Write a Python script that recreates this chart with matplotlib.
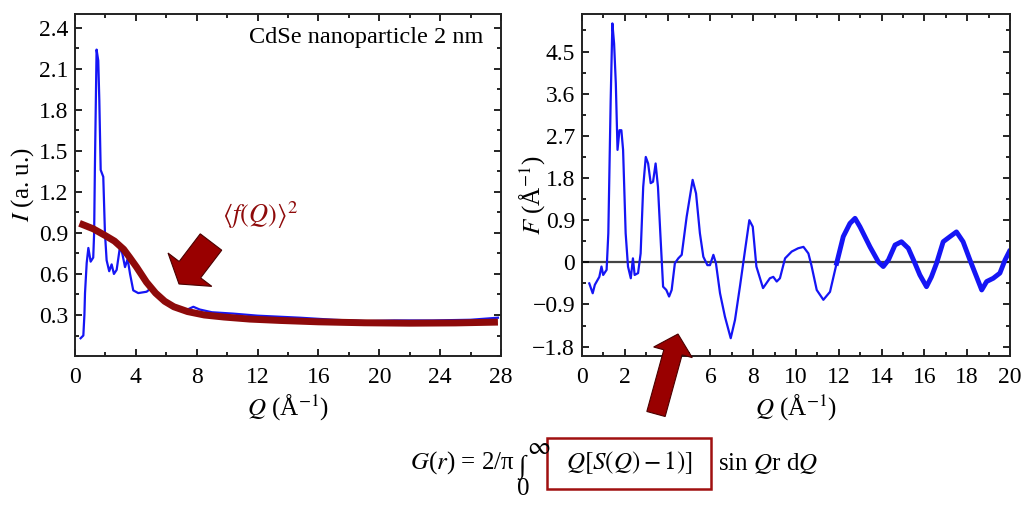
import matplotlib
matplotlib.use('Agg')
import matplotlib.pyplot as plt
from matplotlib.patches import FancyArrow, Rectangle
from matplotlib.ticker import MultipleLocator
import numpy as np

plt.rcParams['font.family'] = ['Liberation Serif', 'DejaVu Serif']
plt.rcParams['mathtext.fontset'] = 'stix'

# measured intensity I(Q)
q_int = [0.37, 0.55, 0.62, 0.66, 0.77, 0.88, 1.03, 1.2, 1.26, 1.31, 1.42, 1.53, 1.6,
         1.69, 1.86, 1.97, 2.08, 2.25, 2.41, 2.56, 2.74, 2.96, 3.11, 3.29, 3.46, 3.62,
         3.83, 4.16, 4.71, 5.04, 5.37, 5.81, 6.5, 7.2, 7.78, 8.2, 9.0, 10.4, 12.0,
         14.8, 17.0, 19.2, 21.0, 23.5, 26.0, 27.8]
i_int = [0.13, 0.15, 0.30, 0.46, 0.68, 0.79, 0.69, 0.72, 0.90, 1.38, 2.24, 2.16, 1.87,
         1.36, 1.31, 0.90, 0.70, 0.62, 0.67, 0.60, 0.63, 0.80, 0.75, 0.65, 0.71, 0.60,
         0.48, 0.46, 0.47, 0.50, 0.46, 0.40, 0.36, 0.33, 0.36, 0.34, 0.32, 0.31, 0.295,
         0.28, 0.265, 0.255, 0.26, 0.26, 0.265, 0.28]

# <f(Q)>^2
q_fq = [0.3, 1.2, 2.0, 2.6, 3.2, 3.6, 4.05, 4.7, 5.3, 5.9, 6.5, 7.4, 8.5, 9.8, 11.5,
        13.5, 16.0, 19.0, 22.0, 25.0, 27.8]
i_fq = [0.97, 0.93, 0.88, 0.84, 0.78, 0.72, 0.65, 0.54, 0.46, 0.40, 0.36, 0.325, 0.30,
        0.285, 0.27, 0.26, 0.25, 0.243, 0.24, 0.242, 0.248]

# reduced structure function F(Q)
q_f = [0.34, 0.5, 0.6, 0.81, 0.91, 0.99, 1.15, 1.23, 1.34, 1.42, 1.50, 1.58, 1.66, 1.75,
       1.84, 1.92, 2.04, 2.15, 2.28, 2.38, 2.46, 2.62, 2.74, 2.86, 2.98, 3.09, 3.21,
       3.32, 3.44, 3.55, 3.66, 3.79, 3.94, 4.07, 4.19, 4.34, 4.5, 4.66, 4.89, 5.17,
       5.33, 5.51, 5.67, 5.86, 5.98, 6.14, 6.26, 6.45, 6.68, 6.95, 7.15, 7.38, 7.62,
       7.82, 7.98, 8.15, 8.46, 8.78, 8.94, 9.1, 9.25, 9.49, 9.8, 10.1, 10.35, 10.58,
       10.72, 10.97, 11.28, 11.59, 11.9, 12.21, 12.52, 12.76, 12.99, 13.46, 13.85,
       14.08, 14.32, 14.63, 14.93, 15.25, 15.56, 15.79, 16.1, 16.33, 16.57, 16.88,
       17.2, 17.5, 17.81, 18.13, 18.44, 18.68, 18.91, 19.22, 19.53, 19.77, 19.97]
f_vals = [-0.45, -0.66, -0.48, -0.31, -0.09, -0.27, -0.16, 0.62, 3.46, 5.1, 4.67, 3.82,
          2.4, 2.82, 2.82, 2.4, 0.62, -0.09, -0.34, 0.085, -0.27, -0.23, 0.19, 1.61,
          2.25, 2.11, 1.69, 1.72, 2.11, 1.61, 0.62, -0.52, -0.59, -0.73, -0.59, -0.02,
          0.085, 0.16, 0.97, 1.76, 1.47, 0.62, 0.12, -0.06, -0.06, 0.16, -0.02, -0.66,
          -1.16, -1.62, -1.23, -0.52, 0.26, 0.90, 0.76, -0.09, -0.55, -0.34, -0.31,
          -0.41, -0.34, 0.085, 0.23, 0.30, 0.33, 0.19, -0.06, -0.59, -0.80, -0.63,
          -0.02, 0.55, 0.83, 0.94, 0.76, 0.33, 0.01, -0.09, 0.05, 0.37, 0.44, 0.30,
          -0.02, -0.27, -0.52, -0.31, -0.02, 0.44, 0.55, 0.65, 0.44, 0.05, -0.31,
          -0.59, -0.41, -0.34, -0.23, 0.05, 0.23]

blue = '#1515f5'
dark_red = '#8e0a0a'

fig = plt.figure(figsize=(10.27, 5.05), dpi=100)
ax1 = fig.add_axes([0.073, 0.295, 0.4148, 0.6772])
ax2 = fig.add_axes([0.5667, 0.295, 0.4167, 0.6772])


def style(ax):
    ax.tick_params(which='both', direction='in', top=True, right=True,
                   labelsize=17, width=1.2, pad=5)
    ax.tick_params(axis='x', which='both', pad=8)
    ax.tick_params(which='major', length=5)
    ax.tick_params(which='minor', length=3)
    for s in ax.spines.values():
        s.set_linewidth(1.4)
        s.set_color('#222222')


ax1.plot(q_int, i_int, color=blue, lw=1.6, zorder=2)
ax1.plot(q_fq, i_fq, color=dark_red, lw=5, solid_capstyle='butt', zorder=3)
ax1.set_xlim(0, 28)
ax1.set_ylim(0, 2.5)
ax1.xaxis.set_major_locator(MultipleLocator(4))
ax1.xaxis.set_minor_locator(MultipleLocator(2))
ax1.set_yticks(np.arange(0.3, 2.41, 0.3))
ax1.set_yticklabels(['0.3', '0.6', '0.9', '1.2', '1.5', '1.8', '2.1', '2.4'])
ax1.yaxis.set_minor_locator(MultipleLocator(0.15))
style(ax1)
ax1.set_xlabel(r'$Q$ (Å$^{-1}$)', fontsize=18, labelpad=3)
ax1.set_ylabel(r'$I$ (a. u.)', fontsize=18, labelpad=2)
ax1.text(0.958, 0.93, 'CdSe nanoparticle 2 nm', transform=ax1.transAxes,
         ha='right', va='center', fontsize=17.5)
ax1.text(12.2, 1.03, r'$\langle f(Q)\rangle^2$', color=dark_red, fontsize=19,
         ha='center', va='center')

q_arr = np.array(q_f)
f_arr = np.array(f_vals)
ax2.axhline(0, color='#444444', lw=1.6, zorder=1)
ax2.plot(q_arr, f_arr, color=blue, lw=1.6, zorder=2)
hi = q_arr >= 11.9
ax2.plot(q_arr[hi], f_arr[hi], color=blue, lw=3.5, zorder=2)
ax2.set_xlim(0, 20)
ax2.set_ylim(-2.0, 5.3)
ax2.xaxis.set_major_locator(MultipleLocator(2))
ax2.xaxis.set_minor_locator(MultipleLocator(1))
ax2.set_yticks([-1.8, -0.9, 0, 0.9, 1.8, 2.7, 3.6, 4.5])
ax2.set_yticklabels(['\u22121.8', '\u22120.9', '0', '0.9', '1.8', '2.7', '3.6', '4.5'])
ax2.yaxis.set_minor_locator(MultipleLocator(0.45))
style(ax2)
ax2.set_xlabel(r'$Q$ (Å$^{-1}$)', fontsize=18, labelpad=3)
ax2.set_ylabel(r'$F$ (Å$^{-1}$)', fontsize=18)
ax2.yaxis.set_label_coords(-0.079, 0.47)

# block arrows, laid out in inches on the figure
arr_kw = dict(transform=fig.dpi_scale_trans, length_includes_head=True,
              facecolor='#990000', edgecolor='#4a0000', lw=0.8, zorder=10)
fig.add_artist(FancyArrow(2.11, 2.63, -0.32, -0.42, width=0.27,
                          head_width=0.55, head_length=0.18, **arr_kw))
fig.add_artist(FancyArrow(6.56, 0.91, 0.22, 0.80, width=0.19,
                          head_width=0.40, head_length=0.19, **arr_kw))

# G(r) expression below the panels
fy = 1 - 463 / 505
fs = 18
fig.text(410 / 1027, fy, r'$G$($r$) = 2/π', fontsize=fs, ha='left', va='center')
fig.text(522 / 1027, 1 - 467 / 505, '\u222b', fontsize=19,
         ha='center', va='center')
fig.text(539 / 1027, 1 - 448 / 505, r'$\infty$', fontsize=fs, ha='center', va='center')
fig.text(523 / 1027, 1 - 489 / 505, '0', fontsize=fs, ha='center', va='center')
fig.add_artist(Rectangle((547 / 1027, 1 - 489 / 505), 164 / 1027, 51 / 505,
                         transform=fig.transFigure, fill=False,
                         edgecolor='#a01010', lw=1.8))
fig.text(629 / 1027, fy, r'$Q[S(Q) - 1)]$', fontsize=fs, ha='center', va='center')
fig.text(718 / 1027, fy, r'sin $Q$r d$Q$', fontsize=fs, ha='left', va='center')

fig.savefig('out.png', dpi=100)
